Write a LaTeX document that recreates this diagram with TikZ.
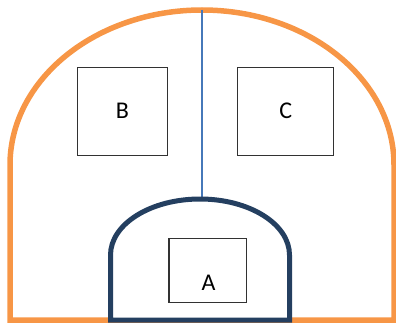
\documentclass[tikz,border=0pt]{standalone}
\usepackage{fontspec}
\setmainfont{Carlito}
\definecolor{orangeline}{RGB}{247,150,70}
\definecolor{navyline}{RGB}{36,63,96}
\definecolor{blueline}{RGB}{70,120,185}
\definecolor{boxline}{RGB}{50,50,50}
\tikzset{
  outershape/.style={draw=orangeline, line width=5.5pt},
  innershape/.style={draw=navyline, line width=5pt, fill=white},
  divider/.style={draw=blueline, line width=1.8pt},
  roombox/.style={draw=boxline, line width=1.2pt, fill=white, inner sep=0pt, font=\fontsize{24}{28}\selectfont},
  roomlabel/.style={inner sep=0pt, font=\fontsize{24}{28}\selectfont}
}
\begin{document}
\begin{tikzpicture}[x=1pt,y=1pt]
\useasboundingbox (0,0) rectangle (396,322);
% outer orange shape
\draw[outershape] (10,2) -- (10,157) arc[start angle=180, end angle=0, x radius=192, y radius=155] -- (394,2) -- cycle;
\coordinate (otop) at (201.7,312);
\coordinate (itop) at (201.7,123);
\draw[divider] (otop) -- (itop);
% inner navy shape
\draw[innershape] (110.5,2) -- (110.5,67) arc[start angle=180, end angle=0, x radius=89.5, y radius=56] -- (289.5,2) -- cycle;
% boxes
\node[roombox, minimum width=90.4pt, minimum height=87.8pt] (B) at (122.5,210.8) {B};
\node[roombox, minimum width=96.1pt, minimum height=87.8pt] (C) at (285.7,210.8) {C};
\node[roombox, minimum width=77.2pt, minimum height=64.4pt] (A) at (207.5,51.5) {};
\node[roomlabel] (Alabel) at (208.5,39) {A};
\end{tikzpicture}
\end{document}
